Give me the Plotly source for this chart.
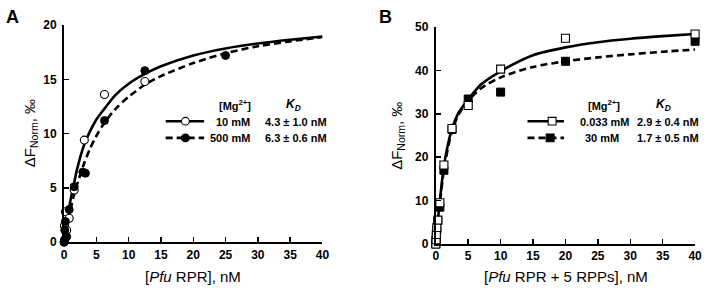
import plotly.graph_objects as go

W, H = 709, 291

# ---------------- Panel A data ----------------
a_open_x = [0, 0.05, 0.2, 0.39, 0.78, 1.56, 3.125, 6.25, 12.5]
a_open_y = [0, 1.5, 2.8, 1.1, 2.2, 4.8, 9.4, 13.6, 14.8]
a_fill_x = [0, 0.05, 0.1, 0.2, 0.39, 0.78, 1.56, 2.9, 3.3, 6.25, 12.5, 25]
a_fill_y = [0, 0.2, 1.1, 1.9, 0.5, 3.0, 5.1, 6.45, 6.35, 11.2, 15.8, 17.2]
a_fit_x = [0, 0.5, 1, 1.6, 2, 3, 4, 5, 6.25, 8, 10, 12.5, 15, 20, 25, 30, 35, 40]
a_fit_solid = [0, 2.2, 3.9, 5.6, 6.7, 8.8, 10.2, 11.3, 12.3, 13.6, 14.6, 15.5, 16.2, 17.2, 17.85, 18.3, 18.65, 18.95]
a_fit_dash = [0, 1.6, 3.0, 4.5, 5.3, 7.1, 8.6, 9.8, 11.0, 12.3, 13.4, 14.5, 15.3, 16.5, 17.4, 18.05, 18.5, 18.9]

# ---------------- Panel B data ----------------
b_x = [0, 0.04, 0.08, 0.16, 0.31, 0.625, 1.25, 2.5, 5, 10, 20, 40]
b_open_y = [0, 1.0, 2.2, 3.8, 5.5, 9.5, 18.2, 26.6, 31.9, 40.3, 47.4, 48.4]
b_fill_y = [0, 0.8, 1.8, 3.2, 5.4, 8.5, 17.0, 26.4, 33.4, 35.0, 42.1, 46.7]
b_fit_x = [0, 0.3, 0.6, 1.25, 2, 2.5, 3.5, 5, 7, 10, 15, 20, 25, 30, 35, 40]
b_fit_solid = [0, 5.2, 9.6, 18.0, 23.8, 26.6, 30.2, 33.3, 36.8, 39.8, 43.5, 45.3, 46.5, 47.3, 47.9, 48.4]
b_fit_dash = [0, 5.6, 9.2, 17.0, 23.0, 26.0, 29.8, 33.0, 35.9, 38.4, 40.8, 42.1, 43.0, 43.7, 44.3, 44.8]

x_ticks = [0, 5, 10, 15, 20, 25, 30, 35, 40]
a_y_ticks = [0, 5, 10, 15, 20]
b_y_ticks = [0, 10, 20, 30, 40, 50]

a_legend_labels = ["10 mM", "500 mM"]
a_legend_kd = ["4.3 ± 1.0 nM", "6.3 ± 0.6 nM"]
b_legend_labels = ["0.033 mM", "30 mM"]
b_legend_kd = ["2.9 ± 0.4 nM", "1.7 ± 0.5 nM"]

FONT = "Liberation Sans, Arial, sans-serif"


def px(x):
    return x / W


def py(y):
    return 1 - y / H


fig = go.Figure()

line_w = 2.6
dash = "7px,4px"

# Panel A
fig.add_trace(go.Scatter(x=a_fit_x, y=a_fit_solid, mode="lines", line=dict(color="black", width=line_w, shape="spline", smoothing=0.8),
                         xaxis="x", yaxis="y", cliponaxis=False, showlegend=False))
fig.add_trace(go.Scatter(x=a_fit_x, y=a_fit_dash, mode="lines", line=dict(color="black", width=line_w, dash=dash, shape="spline", smoothing=0.8),
                         xaxis="x", yaxis="y", cliponaxis=False, showlegend=False))
fig.add_trace(go.Scatter(x=a_open_x, y=a_open_y, mode="markers",
                         marker=dict(symbol="circle", size=8, color="white", line=dict(color="black", width=1.1)),
                         xaxis="x", yaxis="y", cliponaxis=False, showlegend=False))
fig.add_trace(go.Scatter(x=a_fill_x, y=a_fill_y, mode="markers",
                         marker=dict(symbol="circle", size=8, color="black", line=dict(color="black", width=1)),
                         xaxis="x", yaxis="y", cliponaxis=False, showlegend=False))

# Panel B
fig.add_trace(go.Scatter(x=b_fit_x, y=b_fit_solid, mode="lines", line=dict(color="black", width=line_w, shape="spline", smoothing=0.8),
                         xaxis="x2", yaxis="y2", cliponaxis=False, showlegend=False))
fig.add_trace(go.Scatter(x=b_fit_x, y=b_fit_dash, mode="lines", line=dict(color="black", width=line_w, dash=dash, shape="spline", smoothing=0.8),
                         xaxis="x2", yaxis="y2", cliponaxis=False, showlegend=False))
fig.add_trace(go.Scatter(x=b_x, y=b_fill_y, mode="markers",
                         marker=dict(symbol="square", size=8, color="black", line=dict(color="black", width=1)),
                         xaxis="x2", yaxis="y2", cliponaxis=False, showlegend=False))
fig.add_trace(go.Scatter(x=b_x, y=b_open_y, mode="markers",
                         marker=dict(symbol="square", size=8, color="white", line=dict(color="black", width=1.1)),
                         xaxis="x2", yaxis="y2", cliponaxis=False, showlegend=False))

axis_common = dict(showline=True, linecolor="black", linewidth=2, ticks="inside", ticklen=5, tickwidth=1.5,
                   tickcolor="black", showgrid=False, zeroline=False, fixedrange=True,
                   tickfont=dict(family=FONT, size=12, color="black", weight="bold"))

fig.update_layout(
    width=W, height=H,
    margin=dict(l=0, r=0, t=0, b=0),
    paper_bgcolor="white", plot_bgcolor="white",
    xaxis=dict(domain=[px(62), px(324)], range=[0, 40], tickvals=x_ticks, anchor="y", **axis_common),
    yaxis=dict(domain=[py(247), py(19)], range=[0, 20], tickvals=a_y_ticks, anchor="x", ticklabelstandoff=3, **axis_common),
    xaxis2=dict(domain=[px(439), px(702)], range=[0, 40], tickvals=x_ticks, anchor="y2", **axis_common),
    yaxis2=dict(domain=[py(249), py(21)], range=[0, 50], tickvals=b_y_ticks, anchor="x2", ticklabelstandoff=3, **axis_common),
    showlegend=False,
)

ann = []


def text(x, y, s, size=10, xanchor="center", bold=True, angle=0):
    ann.append(dict(x=px(x), y=py(y), xref="paper", yref="paper", text=s, showarrow=False,
                    xanchor=xanchor, yanchor="middle", textangle=angle,
                    font=dict(family=FONT, size=size, color="black", weight="bold" if bold else "normal")))


# Panel letters
text(1, 10, "A", size=18, xanchor="left")
text(379, 10, "B", size=18, xanchor="left")

# Axis titles
text(193, 283, "[<i>Pfu</i> RPR], nM", size=15, bold=False)
text(571, 283, "[<i>Pfu</i> RPR + 5 RPPs], nM", size=15, bold=False)
text(28, 133, "ΔF<sub>Norm</sub>, ‰", size=15, bold=False, angle=-90)
text(400, 135, "ΔF<sub>Norm</sub>, ‰", size=15, bold=False, angle=-90)

# Legend A
text(235, 103, "[Mg<sup>2+</sup>]", size=11)
text(295, 103, "<i>K</i><sub><i>D</i></sub>", size=12)
text(253, 121, a_legend_labels[0], size=11, xanchor="right")
text(253, 138, a_legend_labels[1], size=11, xanchor="right")
text(264, 121, a_legend_kd[0], size=11, xanchor="left")
text(264, 138, a_legend_kd[1], size=11, xanchor="left")

# Legend B
text(610, 103, "[Mg<sup>2+</sup>]", size=11)
text(670, 103, "<i>K</i><sub><i>D</i></sub>", size=12)
text(638, 121, b_legend_labels[0], size=11, xanchor="right")
text(627, 138, b_legend_labels[1], size=11, xanchor="right")
text(641, 121, b_legend_kd[0], size=11, xanchor="left")
text(641, 138, b_legend_kd[1], size=11, xanchor="left")

fig.update_layout(annotations=ann)

shapes = []


def hline(x0, x1, y, dashed=False):
    shapes.append(dict(type="line", xref="paper", yref="paper", x0=px(x0), x1=px(x1), y0=py(y), y1=py(y),
                       line=dict(color="black", width=line_w, dash=dash if dashed else "solid"), layer="above"))


def marker(cx, cy, kind, filled):
    r = 4
    shapes.append(dict(type=kind, xref="paper", yref="paper", x0=px(cx - r), x1=px(cx + r), y0=py(cy + r), y1=py(cy - r),
                       fillcolor="black" if filled else "white", line=dict(color="black", width=1.1), layer="above"))


hline(165, 204, 120)
hline(165, 204, 137.5, dashed=True)
marker(185, 120, "circle", False)
marker(185, 137.5, "circle", True)

hline(532, 569, 120)
hline(532, 569, 137.5, dashed=True)
marker(557, 120, "rect", False)
marker(555, 137.5, "rect", True)

fig.update_layout(shapes=shapes)

fig.write_html("out.html", config={"displayModeBar": False, "staticPlot": True})

# remove the default page margin so the figure sits at the window origin
with open("out.html", encoding="utf-8") as f:
    html = f.read()
html = html.replace("<head>", "<head><style>html,body{margin:0;padding:0;overflow:hidden;}</style>", 1)
with open("out.html", "w", encoding="utf-8") as f:
    f.write(html)
